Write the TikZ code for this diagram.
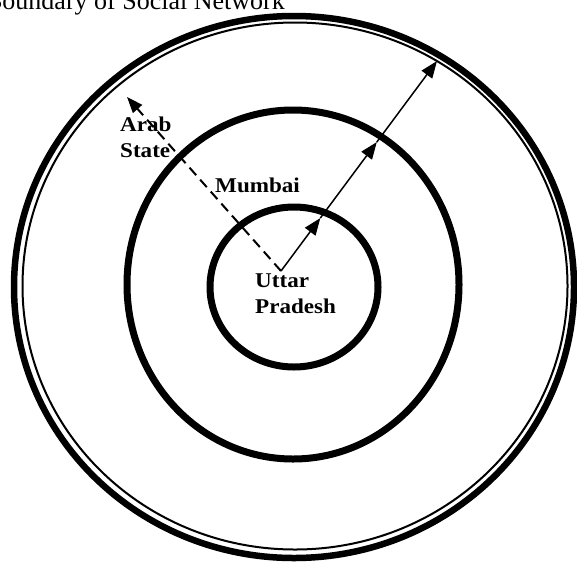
\documentclass[tikz,border=0pt]{standalone}
\usepackage{fontspec}
\setmainfont{Liberation Serif}
\newfontfamily\lblfont[FakeStretch=1.1]{Liberation Serif}
\usetikzlibrary{arrows.meta,calc}
\begin{document}
\begin{tikzpicture}[x=1pt,y=-1pt,
  ring/.style={line width=6.5pt},
  thinring/.style={line width=2pt},
  lbl/.style={font=\lblfont\fontsize{21}{26}\selectfont\bfseries, align=left, inner sep=0pt},
  arr/.style={line width=1.5pt, -{Triangle[length=17pt,width=13pt]}},
  dasharr/.style={line width=2pt, dash pattern=on 10pt off 6pt, -{Triangle[length=16pt,width=12pt]}}]
\useasboundingbox (0,0) rectangle (577,565);
\fill[white] (0,0) rectangle (577,565);
% rings
\draw[ring] (294,287) ellipse [x radius=280pt, y radius=271pt];
\draw[thinring] (295,286) ellipse [x radius=272.5pt, y radius=263.5pt];
\draw[line width=7pt] (293,284.5) ellipse [x radius=166pt, y radius=174.5pt];
\draw[line width=7pt] (294,287) ellipse [x radius=84pt, y radius=80pt];
% title
\node[anchor=base east, inner sep=0pt, font=\fontsize{26}{30}\selectfont] (title) at (285,9) {Boundary of Social Network};
% arrows
\coordinate (O) at (281,271);
\coordinate (A3) at (437,61);
\coordinate (A1) at ($(O)!0.252!(A3)$);
\coordinate (A2) at ($(O)!0.614!(A3)$);
\coordinate (D) at (127,97);
\draw[arr] (O) -- (A1);
\draw[arr] (A1) -- (A2);
\draw[arr] (A2) -- (A3);
\draw[dasharr] (O) -- (D);
% labels
\node[lbl, anchor=north west] (arab) at (120,117) {Arab\\State};
\node[lbl, anchor=base west] (mumbai) at (215,192) {Mumbai};
\node[lbl, anchor=north west] (up) at (255,274) {Uttar\\Pradesh};
\end{tikzpicture}
\end{document}
